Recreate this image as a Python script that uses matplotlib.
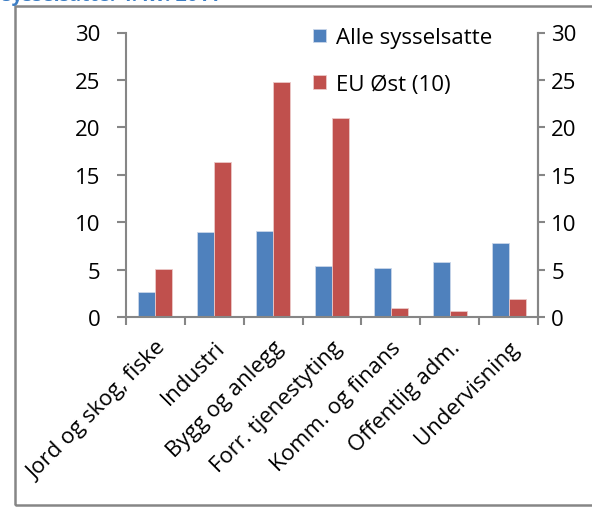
import matplotlib
matplotlib.use("Agg")
import numpy as np
import matplotlib.pyplot as plt
from matplotlib.patches import Rectangle

# --- data --------------------------------------------------------------
categories = ["Jord og skog, fiske", "Industri", "Bygg og anlegg",
              "Forr. tjenestyting", "Komm. og finans", "Offentlig adm.",
              "Undervisning"]
alle_sysselsatte = [2.6, 9.0, 9.1, 5.4, 5.2, 5.8, 7.8]
eu_ost = [5.1, 16.3, 24.8, 21.0, 0.95, 0.6, 1.9]
series_names = ["Alle sysselsatte", "EU Øst (10)"]
yticks = [0, 5, 10, 15, 20, 25, 30]

BLUE = "#4F81BD"
RED = "#C0504D"
GREY = "#868686"
FS = 16

plt.rcParams["font.family"] = ["Open Sans", "DejaVu Sans"]

fig = plt.figure(figsize=(5.92, 5.10), dpi=100)
ax = fig.add_axes([126 / 592, 1 - 318 / 510, 412 / 592, (318 - 33.5) / 510])

x = np.arange(len(categories))
w = 0.29
ax.bar(x - w / 2, alle_sysselsatte, w, color=BLUE, edgecolor="#c9d6ea",
       linewidth=0.6, label=series_names[0])
ax.bar(x + w / 2, eu_ost, w, color=RED, edgecolor="#ecc9c8",
       linewidth=0.6, label=series_names[1])

ax.set_xlim(-0.5, len(categories) - 0.5)
ax.set_ylim(0, 30)
ax.set_yticks(yticks)

# ── Axes styling ─────────────────────────────────────────────────────
ax.spines["top"].set_visible(False)
for s in ("left", "right", "bottom"):
    ax.spines[s].set_color(GREY)
    ax.spines[s].set_linewidth(1.5)

ax.tick_params(axis="y", direction="out", length=6.5, width=1.5,
               color=GREY, labelsize=FS, pad=12, left=True, right=False)

# right-hand axis: same scale, labels sit closer to the spine
axr = ax.twinx()
axr.set_ylim(ax.get_ylim())
axr.set_yticks(yticks)
for s in ("top", "left", "bottom"):
    axr.spines[s].set_visible(False)
axr.spines["right"].set_color(GREY)
axr.spines["right"].set_linewidth(1.5)
axr.tick_params(axis="y", direction="out", length=5, width=1.5,
                color=GREY, labelsize=FS, pad=4.5)

ax.set_xticks(x)
ax.set_xticklabels(categories, rotation=45, ha="right",
                   rotation_mode="anchor", fontsize=FS)
ax.tick_params(axis="x", which="major", length=0, pad=14)
ax.set_xticks(np.arange(-0.5, len(categories)), minor=True)
ax.tick_params(axis="x", which="minor", direction="out", length=6,
               width=1.5, color=GREY)

ax.legend(loc="upper left", bbox_to_anchor=(0.433, 1.05), frameon=False,
          fontsize=FS, handlelength=0.55, handleheight=0.55,
          handletextpad=0.45, labelspacing=1.15, borderaxespad=0)

# outer chart frame (right edge falls outside the crop)
fig.patches.append(Rectangle((15 / 592, 1 - 506 / 510), 1.0, (506 - 7) / 510,
                             transform=fig.transFigure, fill=False,
                             edgecolor=GREY, linewidth=1.8))

# heading above the frame, cut off by the crop as in the original
fig.text(2 / 592, 1 - 0.5 / 510, "sysselsatte. 4. kv. 2011",
         color="#3C7DC4", fontsize=14, fontweight="bold", va="baseline")

fig.savefig("out.png", dpi=100)
